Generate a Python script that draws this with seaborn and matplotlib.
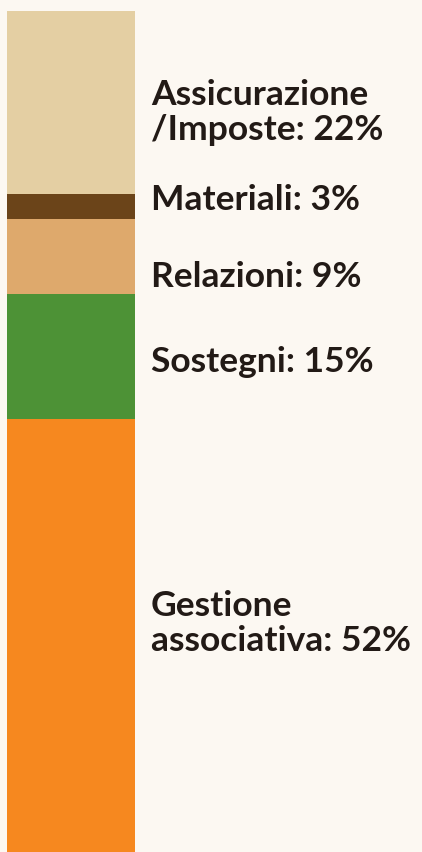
import seaborn as sns
import matplotlib.pyplot as plt
import matplotlib.transforms as mtransforms
import pandas as pd

# Budget shares, top to bottom
categories = ['Assicurazione\n/Imposte', 'Materiali', 'Relazioni', 'Sostegni', 'Gestione\nassociativa']
shares = [22, 3, 9, 15, 52]
colors = ['#E4CFA3', '#6B4419', '#DEA96C', '#4D9236', '#F6881F']

# small nudges for the labels (in % units), labels are not exactly centered
label_nudge = [1.2, -0.8, 2.4, 0.6, -1.4]

df = pd.DataFrame({'category': categories, 'share': shares, 'color': colors})
df['end'] = df['share'].cumsum()
df['mid'] = df['end'] - df['share'] / 2

sns.set_theme(style='white')
plt.rcParams['font.family'] = ['Lato', 'DejaVu Sans']

W, H = 422, 852
fig = plt.figure(figsize=(W / 100, H / 100), dpi=100)
fig.patch.set_facecolor('#FCF8F2')

# axes holding the single stacked bar
ax = fig.add_axes([7 / W, 0, 128 / W, (H - 11) / H])
ax.set_facecolor('none')

# draw cumulative bars from the longest to the shortest so they stack
for _, row in df.iloc[::-1].iterrows():
    sns.barplot(data=pd.DataFrame({'bar': ['total'], 'end': [row['end']]}),
                x='bar', y='end', color=row['color'], width=1.0,
                saturation=1, ax=ax, linewidth=0)

ax.set_xlim(-0.5, 0.5)
ax.set_ylim(df['end'].iloc[-1], 0)
ax.axis('off')

# labels to the right of the bar
trans = mtransforms.blended_transform_factory(fig.transFigure, ax.transData)
for (_, row), nudge in zip(df.iterrows(), label_nudge):
    ax.text(151 / W, row['mid'] + nudge, f"{row['category']}: {row['share']}%",
            transform=trans, ha='left', va='center', fontsize=25.5,
            fontweight='bold', color='#221A16', linespacing=1.12, clip_on=False)

fig.savefig('out.png', dpi=100, facecolor=fig.get_facecolor())
